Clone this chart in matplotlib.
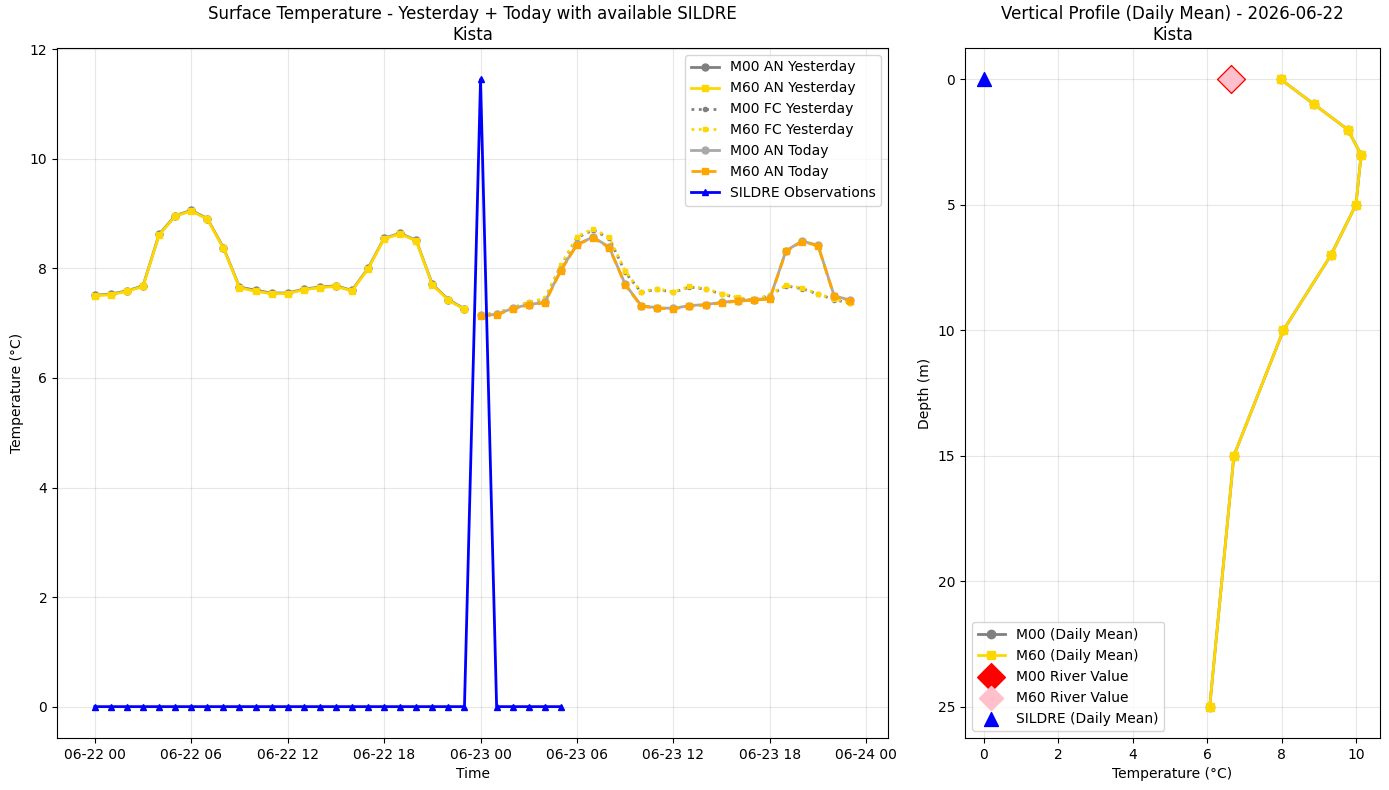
import numpy as np
import pandas as pd
import matplotlib.pyplot as plt
import matplotlib.dates as mdates

# time axes
t_yest = pd.date_range("2026-06-22 00:00", periods=24, freq="h")
t_today = pd.date_range("2026-06-23 00:00", periods=24, freq="h")
t_obs = pd.date_range("2026-06-22 00:00", periods=30, freq="h")

# surface temperature yesterday (analysis)
m60_an_yest = [7.50, 7.52, 7.58, 7.67, 8.61, 8.95, 9.05, 8.90, 8.37, 7.65, 7.58, 7.54,
               7.54, 7.61, 7.65, 7.67, 7.59, 7.99, 8.54, 8.63, 8.50, 7.70, 7.42, 7.25]
m00_an_yest = [7.51, 7.53, 7.59, 7.68, 8.62, 8.96, 9.06, 8.91, 8.38, 7.66, 7.60, 7.55,
               7.55, 7.62, 7.66, 7.68, 7.60, 8.00, 8.55, 8.64, 8.51, 7.71, 7.43, 7.26]

# forecast from yesterday, valid today
m60_fc_yest = [7.15, 7.18, 7.28, 7.38, 7.45, 8.06, 8.58, 8.72, 8.57, 7.95, 7.57, 7.63,
               7.57, 7.67, 7.63, 7.54, 7.47, 7.42, 7.52, 7.69, 7.64, 7.54, 7.44, 7.37]
m00_fc_yest = [7.15, 7.18, 7.28, 7.38, 7.44, 8.04, 8.56, 8.70, 8.55, 7.93, 7.56, 7.62,
               7.56, 7.66, 7.62, 7.53, 7.46, 7.41, 7.51, 7.68, 7.63, 7.53, 7.43, 7.36]

# analysis today
m60_an_today = [7.13, 7.15, 7.26, 7.33, 7.37, 7.96, 8.43, 8.56, 8.38, 7.70, 7.31, 7.27,
                7.26, 7.31, 7.33, 7.37, 7.40, 7.42, 7.44, 8.31, 8.49, 8.41, 7.49, 7.41]
m00_an_today = [7.14, 7.16, 7.27, 7.34, 7.38, 7.97, 8.44, 8.57, 8.39, 7.71, 7.32, 7.28,
                7.27, 7.32, 7.34, 7.38, 7.41, 7.43, 7.45, 8.32, 8.50, 8.42, 7.50, 7.42]

# SILDRE observations
sildre_obs = [0.0] * 24 + [11.45] + [0.0] * 5

# vertical profile (daily mean)
depths = [0, 1, 2, 3, 5, 7, 10, 15, 25]
m00_profile = [7.98, 8.88, 9.78, 10.14, 10.00, 9.33, 8.05, 6.72, 6.07]
m60_profile = [7.98, 8.88, 9.78, 10.14, 10.00, 9.33, 8.05, 6.72, 6.07]
m00_river = 6.64
m60_river = 6.64
sildre_mean = 0.0

fig, (ax1, ax2) = plt.subplots(1, 2, figsize=(13.89, 7.9), dpi=100)

ax1.plot(t_yest, m00_an_yest, "-o", color="gray", lw=2, ms=5, label="M00 AN Yesterday")
ax1.plot(t_yest, m60_an_yest, "-s", color="gold", lw=2, ms=5, label="M60 AN Yesterday")
ax1.plot(t_today, m00_fc_yest, ":o", color="gray", lw=2, ms=3, label="M00 FC Yesterday")
ax1.plot(t_today, m60_fc_yest, ":s", color="gold", lw=2, ms=3, label="M60 FC Yesterday")
ax1.plot(t_today, m00_an_today, "-o", color="darkgray", lw=2, ms=5, label="M00 AN Today")
ax1.plot(t_today, m60_an_today, "--s", color="orange", lw=2, ms=5, label="M60 AN Today")
ax1.plot(t_obs, sildre_obs, "-^", color="blue", lw=2, ms=5, label="SILDRE Observations")

ax1.set_title("Surface Temperature - Yesterday + Today with available SILDRE\nKista")
ax1.set_xlabel("Time")
ax1.set_ylabel("Temperature (°C)")
ax1.xaxis.set_major_locator(mdates.HourLocator(byhour=[0, 6, 12, 18]))
ax1.xaxis.set_major_formatter(mdates.DateFormatter("%m-%d %H"))
ax1.grid(True, alpha=0.3)
ax1.legend(loc="upper right")

ax2.plot(m00_profile, depths, "-o", color="gray", lw=2, ms=6, label="M00 (Daily Mean)")
ax2.plot(m60_profile, depths, "-s", color="gold", lw=2, ms=6, label="M60 (Daily Mean)")
ax2.scatter([m00_river], [0], marker="D", color="red", s=200, zorder=5, label="M00 River Value")
ax2.scatter([m60_river], [0], marker="D", color="pink", s=150, zorder=6, label="M60 River Value")
ax2.scatter([sildre_mean], [0], marker="^", color="blue", s=100, zorder=5, label="SILDRE (Daily Mean)")
ax2.invert_yaxis()
ax2.set_title("Vertical Profile (Daily Mean) - 2026-06-22\nKista")
ax2.set_xlabel("Temperature (°C)")
ax2.set_ylabel("Depth (m)")
ax2.grid(True, alpha=0.3)
ax2.legend(loc="lower left")

# axes placement matched to the reference
W, H = 1389, 790
ax1.set_position([57 / W, 1 - 738 / H, (888 - 57) / W, (738 - 48) / H])
ax2.set_position([965 / W, 1 - 738 / H, (1380 - 965) / W, (738 - 48) / H])

plt.savefig("out.png")
